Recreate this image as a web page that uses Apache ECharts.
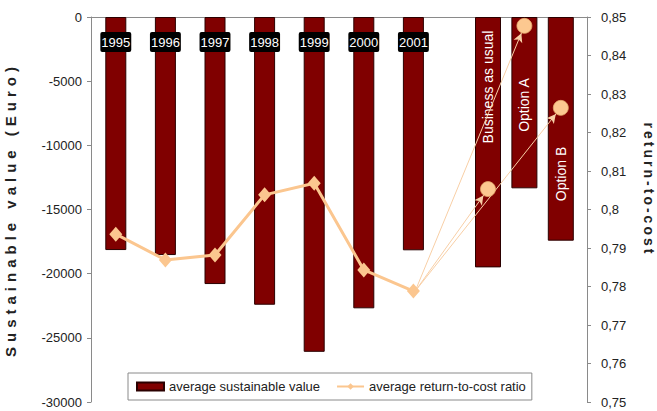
<!DOCTYPE html>
<html>
<head>
<meta charset="utf-8">
<script src="https://cdn.jsdelivr.net/npm/echarts@6/dist/echarts.min.js"></script>
<style>
  html, body { margin: 0; padding: 0; background: #fff; }
  #chart { width: 657px; height: 411px; }
</style>
</head>
<body>
<div id="chart"></div>
<script>
// Yearly averages and the three scenarios
const years = ['1995', '1996', '1997', '1998', '1999', '2000', '2001'];
const scenarios = ['Business as usual', 'Option A', 'Option B'];
const yearValues = [-18160, -18550, -20810, -22420, -26090, -22700, -18180];
const scenarioValues = [-19510, -13350, -17430];
const yearRatios = [0.7936, 0.7869, 0.7882, 0.8038, 0.8068, 0.7843, 0.7788];
const scenarioRatios = [0.8053, 0.8477, 0.8264];

const leftTitle = 'Sustainable value (Euro)';
const rightTitle = 'return-to-cost';
const barName = 'average sustainable value';
const lineName = 'average return-to-cost ratio';

const FONT = '"Liberation Sans", Arial, sans-serif';
const BAR = '#800000';
const BAR_EDGE = '#2a0000';
const LINE = '#fbc68f';
const ARROW = '#f8cfa6';
const AXIS = '#8a8a8a';
const TXT = '#222';

// scenario label placement inside each bar (distance of label centre from bar top)
const scenarioLabelOffset = [70, 88, 157];

// second x axis: 2001 followed by a spacer slot and the scenarios
const scenarioAxis = [years[years.length - 1], ''].concat(scenarios);
const last = years.length - 1;

const chart = echarts.init(document.getElementById('chart'), null, { renderer: 'svg' });

const option = {
  animation: false,
  textStyle: { fontFamily: FONT },
  grid: [
    { left: 91, right: 70, top: 17, bottom: 9, outerBoundsMode: 'none', containLabel: false },
    { left: 397, right: 78, top: 17, bottom: 9, outerBoundsMode: 'none', containLabel: false }
  ],
  xAxis: [
    {
      type: 'category', gridIndex: 0, position: 'top',
      data: years.concat(scenarios),
      axisLine: { lineStyle: { color: AXIS, width: 1 } },
      axisTick: { length: 5, lineStyle: { color: AXIS } },
      axisLabel: { show: false }
    },
    {
      type: 'category', gridIndex: 1, data: scenarioAxis, show: false
    }
  ],
  yAxis: [
    {
      type: 'value', gridIndex: 0, position: 'left',
      min: -30000, max: 0, interval: 5000,
      name: leftTitle, nameLocation: 'middle', nameGap: 73, nameRotate: 90,
      nameTextStyle: { fontSize: 15, fontWeight: 'bold', color: TXT, fontFamily: FONT },
      axisLine: { show: true, lineStyle: { color: AXIS } },
      axisTick: { show: true, length: 4, lineStyle: { color: AXIS } },
      axisLabel: { margin: 9, fontSize: 13, color: TXT, fontFamily: FONT, formatter: v => String(v) },
      splitLine: { show: false }
    },
    {
      type: 'value', gridIndex: 0, position: 'right',
      min: 0.75, max: 0.85, interval: 0.01,
      name: rightTitle, nameLocation: 'middle', nameGap: 55, nameRotate: -90,
      nameTextStyle: { fontSize: 14, fontWeight: 'bold', color: TXT, fontFamily: FONT, padding: [0, 40, 0, 0] },
      axisLine: { show: true, lineStyle: { color: AXIS } },
      axisTick: { show: true, length: 4, lineStyle: { color: AXIS } },
      axisLabel: {
        margin: 14, fontSize: 13, color: TXT, fontFamily: FONT,
        formatter: v => String(+v.toFixed(2)).replace('.', ',')
      },
      splitLine: { show: false }
    },
    { type: 'value', gridIndex: 1, min: -30000, max: 0, show: false, splitLine: { show: false } },
    { type: 'value', gridIndex: 1, min: 0.75, max: 0.85, show: false, splitLine: { show: false } }
  ],
  legend: {
    left: 128, top: 373,
    padding: [7, 6, 7, 8],
    itemWidth: 27, itemHeight: 8, itemGap: 16,
    borderColor: '#8a8a8a', borderWidth: 1, backgroundColor: '#fff',
    textStyle: { fontSize: 13, color: TXT, fontFamily: FONT },
    data: [
      { name: barName, icon: 'rect' },
      { name: lineName }
    ]
  },
  series: [
    {
      name: barName, type: 'bar', xAxisIndex: 0, yAxisIndex: 0,
      data: yearValues, barWidth: 21,
      itemStyle: { color: BAR, borderColor: BAR_EDGE, borderWidth: 1 },
      label: {
        show: true, position: 'insideTop', distance: 15,
        formatter: '{b}', color: '#fff', fontSize: 13, fontFamily: FONT,
        backgroundColor: '#000', borderRadius: 2, padding: [4, 1, 3, 1]
      }
    },
    {
      name: 'scenario value', type: 'bar', xAxisIndex: 1, yAxisIndex: 2,
      barWidth: 26,
      data: scenarioAxis.map((c, i) => {
        const k = scenarios.indexOf(c);
        if (k < 0 || i === 0) return '-';
        return {
          value: scenarioValues[k],
          label: {
            show: true, position: ['50%', scenarioLabelOffset[k]],
            align: 'center', verticalAlign: 'middle', rotate: 90,
            formatter: '{b}', color: '#fff', fontSize: 14, fontFamily: FONT
          }
        };
      }),
      itemStyle: { color: BAR, borderColor: BAR_EDGE, borderWidth: 1 }
    },
    {
      name: lineName, type: 'line', xAxisIndex: 0, yAxisIndex: 1,
      data: yearRatios, z: 4,
      symbol: 'diamond', symbolSize: [13, 15],
      lineStyle: { color: LINE, width: 3 },
      itemStyle: { color: LINE }
    },
    {
      name: 'scenario ratio', type: 'scatter', xAxisIndex: 1, yAxisIndex: 3,
      z: 10,
      data: scenarios.map((n, i) => [n, scenarioRatios[i]]),
      symbol: 'circle', symbolSize: 15,
      itemStyle: { color: '#fcc890', borderColor: '#e6a86c', borderWidth: 0.8, opacity: 1 },
      markLine: {
        silent: true, z: 3,
        symbol: ['none', 'arrow'], symbolSize: [7, 9],
        symbolOffset: [[0, 0], [0, 8]],
        label: { show: false },
        lineStyle: { color: ARROW, width: 1, type: 'solid', opacity: 1 },
        data: scenarios.map((n, i) => [
          { coord: [years[last], yearRatios[last]] },
          { coord: [n, scenarioRatios[i]] }
        ])
      }
    }
  ]
};

chart.setOption(option);

// widen the tracking of the two axis titles
function spaceTitles() {
  document.querySelectorAll('#chart text').forEach(t => {
    const s = t.textContent;
    if (s === leftTitle) t.setAttribute('letter-spacing', '5px');
    if (s === rightTitle) t.setAttribute('letter-spacing', '3px');
  });
}
chart.on('finished', spaceTitles);
spaceTitles();
</script>
</body>
</html>
